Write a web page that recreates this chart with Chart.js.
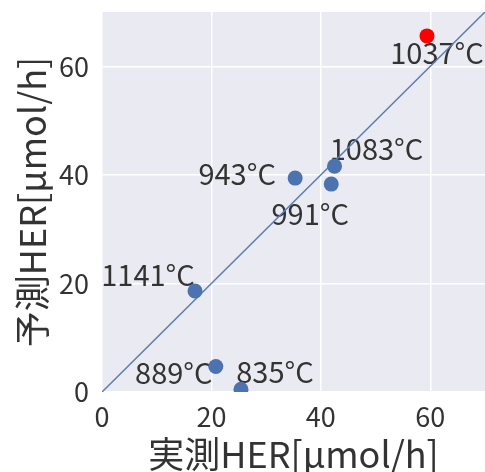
<!DOCTYPE html>
<html lang="ja">
<head>
<meta charset="UTF-8">
<title>HER prediction</title>
<script src="https://cdn.jsdelivr.net/npm/chart.js@4.4.0/dist/chart.umd.min.js"></script>
<style>
  html, body { margin: 0; padding: 0; background: #fff; overflow: hidden; }
  #wrap { position: relative; width: 485px; height: 472px; }
  #chart { display: block; }
</style>
</head>
<body>
<div id="wrap"><canvas id="chart"></canvas></div>
<script>
// measured vs predicted HER [umol/h], labelled by temperature
var temps     = ['889°C', '835°C', '1141°C', '943°C', '991°C', '1083°C'];
var measured  = [20.8, 25.4, 17.0, 35.3, 41.9, 42.5];
var predicted = [4.7, 0.5, 18.6, 39.4, 38.3, 41.6];

var outTemp = ['1037°C'];
var outMeasured = [59.4];
var outPredicted = [65.6];

var diagonal = [0, 70];
var tickValues = [0, 20, 40, 60];

// where each label sits relative to its point (px)
var labelShift = {
  '889°C': [-42, 6], '835°C': [34, -17], '1141°C': [-47, -16],
  '943°C': [-58, -4], '991°C': [-21, 30], '1083°C': [42, -17], '1037°C': [10, 17]
};

var font = "'Noto Sans CJK JP', 'Noto Sans', sans-serif";
var ink = '#333333';

var bluePts = measured.map(function (m, i) { return { x: m, y: predicted[i] }; });
var redPts = outMeasured.map(function (m, i) { return { x: m, y: outPredicted[i] }; });

var panelBg = {
  id: 'panelBg',
  beforeDraw: function (chart) {
    var a = chart.chartArea, ctx = chart.ctx;
    ctx.save();
    ctx.fillStyle = '#EAEAF2';
    ctx.fillRect(a.left, a.top, a.right - a.left, a.bottom - a.top);
    ctx.restore();
  }
};

var pointLabels = {
  id: 'pointLabels',
  beforeDatasetsDraw: function (chart) {
    var ctx = chart.ctx;
    var xs = chart.scales.x, ys = chart.scales.y;
    ctx.save();
    ctx.font = '29px ' + font;
    ctx.fillStyle = ink;
    ctx.textAlign = 'center';
    ctx.textBaseline = 'middle';
    function put(names, xv, yv) {
      names.forEach(function (t, i) {
        var s = labelShift[t];
        ctx.fillText(t, xs.getPixelForValue(xv[i]) + s[0], ys.getPixelForValue(yv[i]) + s[1]);
      });
    }
    put(temps, measured, predicted);
    put(outTemp, outMeasured, outPredicted);
    ctx.restore();
  }
};

function onlyTicks(scale) {
  scale.ticks = tickValues.map(function (v) { return { value: v }; });
}

new Chart(document.getElementById('chart'), {
  type: 'scatter',
  data: {
    datasets: [
      {
        type: 'line',
        data: diagonal.map(function (v) { return { x: v, y: v }; }),
        borderColor: '#5A7DB5',
        borderWidth: 1.5,
        pointRadius: 0,
        clip: 0,
        order: 3
      },
      {
        data: bluePts,
        backgroundColor: '#4C72B0',
        borderWidth: 0,
        pointRadius: 7.5,
        clip: 0,
        order: 2
      },
      {
        data: redPts,
        backgroundColor: '#FF0000',
        borderWidth: 0,
        pointRadius: 7.5,
        clip: 0,
        order: 1
      }
    ]
  },
  options: {
    responsive: true,
    maintainAspectRatio: false,
    animation: false,
    layout: { autoPadding: false, padding: { top: 12, right: 0, left: 0, bottom: 0 } },
    plugins: { legend: { display: false }, tooltip: { enabled: false } },
    scales: {
      x: {
        type: 'linear',
        min: 0,
        max: 70,
        afterBuildTicks: onlyTicks,
        afterFit: function (s) { s.height = 80; s.paddingLeft = 0; s.paddingRight = 0; },
        border: { display: false },
        grid: { color: '#FFFFFF', lineWidth: 1.5, drawTicks: false },
        ticks: { color: ink, padding: 9, font: { family: font, size: 27 } },
        title: {
          display: true,
          text: '実測HER[μmol/h]',
          color: ink,
          font: { family: font, size: 36, lineHeight: 1 },
          padding: 0
        }
      },
      y: {
        type: 'linear',
        min: 0,
        max: 70,
        afterBuildTicks: onlyTicks,
        afterFit: function (s) { s.width = 102; s.paddingTop = 0; s.paddingBottom = 0; },
        border: { display: false },
        grid: { color: '#FFFFFF', lineWidth: 1.5, drawTicks: false },
        ticks: { color: ink, padding: 13, font: { family: font, size: 27 } },
        title: {
          display: true,
          text: '予測HER[μmol/h]',
          color: ink,
          font: { family: font, size: 36, lineHeight: 1 },
          padding: { top: 14, bottom: 0 }
        }
      }
    }
  },
  plugins: [panelBg, pointLabels]
});
</script>
</body>
</html>
